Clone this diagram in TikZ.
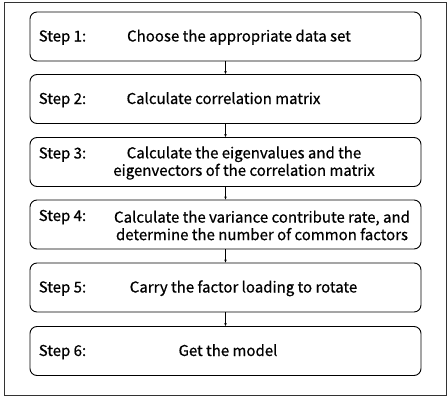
\documentclass[tikz,border=0pt]{standalone}
\usepackage{fontspec}
\setmainfont{Noto Sans CJK SC}[FakeBold=0.6]
\usetikzlibrary{arrows.meta}
\begin{document}
\begin{tikzpicture}[x=1pt,y=1pt]

          % Definitions
          \tikzstyle{stepbox} = [rectangle, rounded corners=7pt, minimum width=391pt, minimum height=49pt, draw=black, line width=0.9pt]
          \tikzstyle{steplabel} = [anchor=base west, inner sep=0pt, font=\fontsize{15}{17.5}\selectfont]
          \tikzstyle{steptext} = [anchor=base, align=center, inner sep=0pt, font=\fontsize{15}{17.5}\selectfont]
          \tikzstyle{steptwo} = [anchor=center, align=center, inner sep=0pt, font=\fontsize{15}{17.5}\selectfont]
          \tikzstyle{arrow} = [line width=0.5pt,-{Stealth[length=3pt,width=2.5pt]}]

          \useasboundingbox (0,0) rectangle (448,-397);
          \draw [line width=0.9pt, draw=black!80] (4,-2) rectangle (446,-395);

          \node (s1) [stepbox] at (225.5,-36.5) {};
          \node (s2) [stepbox, below of=s1, node distance=62.5pt] {};
          \node (s3) [stepbox, below of=s2, node distance=63pt] {};
          \node (s4) [stepbox, below of=s3, node distance=62.5pt] {};
          \node (s5) [stepbox, below of=s4, node distance=63pt] {};
          \node (s6) [stepbox, below of=s5, node distance=63.5pt] {};

          \node (l1) [steplabel, xshift=9pt, yshift=-5pt] at (s1.west) {Step 1:};
          \node (l2) [steplabel, xshift=9pt, yshift=-5pt] at (s2.west) {Step 2:};
          \node (l3) [steplabel, xshift=9pt, yshift=3.5pt] at (s3.west) {Step 3:};
          \node (l4) [steplabel, xshift=9pt, yshift=3.5pt] at (s4.west) {Step 4:};
          \node (l5) [steplabel, xshift=9pt, yshift=-5pt] at (s5.west) {Step 5:};
          \node (l6) [steplabel, xshift=9pt, yshift=-5pt] at (s6.west) {Step 6:};

          \node (t1) [steptext, xshift=13.5pt, yshift=-5pt] at (s1.center) {Choose the appropriate data set};
          \node (t2) [steptext, xshift=-2pt, yshift=-5pt] at (s2.center) {Calculate correlation matrix};
          \node (t3) [steptwo, xshift=18.5pt, yshift=-1pt] at (s3.center) {Calculate the eigenvalues and the\\eigenvectors of the correlation matrix};
          \node (t4) [steptwo, xshift=36.5pt, yshift=-1pt] at (s4.center) {Calculate the variance contribute rate, and\\determine the number of common factors};
          \node (t5) [steptext, xshift=18pt, yshift=-5pt] at (s5.center) {Carry the factor loading to rotate};
          \node (t6) [steptext, xshift=2.5pt, yshift=-5pt] at (s6.center) {Get the model};

          \draw [arrow] (s1) -- (s2);
          \draw [arrow] (s2) -- (s3);
          \draw [arrow] (s3) -- (s4);
          \draw [arrow] (s4) -- (s5);
          \draw [arrow] (s5) -- (s6);

        \end{tikzpicture}
\end{document}
